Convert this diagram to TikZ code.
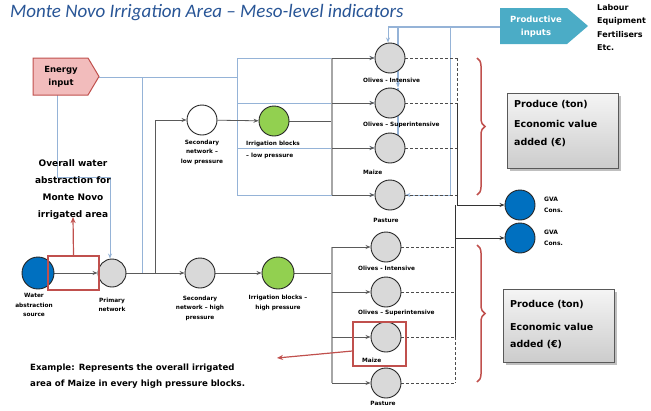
\documentclass[tikz,border=0pt]{standalone}
\usepackage{fontspec}
\setmainfont{DejaVu Sans}
\newfontfamily\titlefont[Ligatures=TeX]{Carlito}
\usetikzlibrary{arrows.meta,decorations.pathreplacing,shadows,backgrounds}
\definecolor{cblue}{RGB}{149,179,215}
\definecolor{cgray}{RGB}{217,217,217}
\definecolor{cgreen}{RGB}{146,208,80}
\definecolor{dblue}{RGB}{0,112,192}
\definecolor{cred}{RGB}{192,80,77}
\definecolor{cpink}{RGB}{242,188,188}
\definecolor{cteal}{RGB}{75,172,198}
\definecolor{ctitle}{RGB}{40,85,150}
\definecolor{lgray}{RGB}{90,90,90}
\begin{document}
\begin{tikzpicture}[x=1pt,y=-1pt,
  crc/.style={circle,draw=black!85,line width=0.9pt,minimum size=30pt,inner sep=0pt,fill=cgray},
  lbl/.style={font=\bfseries\fontsize{5.8}{9.5}\selectfont,align=center,inner sep=0pt},
  gl/.style={draw=lgray,line width=0.8pt},
  ga/.style={gl,-{Stealth[length=5pt,width=4pt]}},
  bl/.style={draw=cblue,line width=1pt},
  ba/.style={bl,-{Stealth[length=5pt,width=4pt]}},
  dl/.style={draw=black!70,line width=0.8pt,dash pattern=on 3pt off 2pt},
  redl/.style={draw=cred,line width=1.2pt},
  prodbox/.style={draw=black!65,line width=1pt,top color=gray!8,bottom color=gray!40,drop shadow,
    minimum width=111pt,minimum height=75pt,inner sep=0pt}
]
\useasboundingbox (0,0) rectangle (651,410);

% title
\node[anchor=west,font=\titlefont\itshape\fontsize{19}{21}\selectfont,text=ctitle,inner sep=0pt] (title) at (10,13)
  {Monte Novo Irrigation Area \textendash{} Meso-level indicators};

% circles
\node[crc,fill=dblue,minimum size=32pt] (wa) at (38,273) {};
\node[crc,minimum size=28pt] (pn) at (112,273) {};
\node[crc,fill=white] (snl) at (202,120) {};
\node[crc,fill=cgreen] (ibl) at (274,121) {};
\node[crc] (snh) at (200,273) {};
\node[crc,fill=cgreen,minimum size=32pt] (ibh) at (278,273) {};
\node[crc] (t1) at (390,58) {};
\node[crc] (t2) at (390,103) {};
\node[crc] (t3) at (390,148) {};
\node[crc] (t4) at (390,195) {};
\node[crc] (b1) at (386,247) {};
\node[crc] (b2) at (386,292) {};
\node[crc] (b3) at (386,337) {};
\node[crc] (b4) at (386,383) {};
\node[crc,fill=dblue] (g1) at (520,205) {};
\node[crc,fill=dblue] (g2) at (520,238) {};

% labels
\node[lbl] (lwa) at (34,305) {Water\\abstraction\\source};
\node[lbl] (lpn) at (112,305) {Primary\\network};
\node[lbl] (lsnl) at (202,152) {Secondary\\network --\\low pressure};
\node[lbl,align=left,anchor=west,font=\bfseries\fontsize{5.8}{12}\selectfont] (libl) at (246,150) {Irrigation blocks\\-- low pressure};
\node[lbl] (lsnh) at (200,308) {Secondary\\network -- high\\pressure};
\node[lbl] (libh) at (278,303) {Irrigation blocks --\\high pressure};
\node[lbl,anchor=west] (lt1) at (363,80) {Olives - Intensive};
\node[lbl,anchor=west] (lt2) at (363,125) {Olives -- Superintensive};
\node[lbl,anchor=west] (lt3) at (363,172) {Maize};
\node[lbl] (lt4) at (386,220) {Pasture};
\node[lbl,anchor=west] (lb1) at (358,268) {Olives - Intensive};
\node[lbl,anchor=west] (lb2) at (358,313) {Olives -- Superintensive};
\node[lbl,anchor=west] (lb3) at (362,360) {Maize};
\node[lbl] (lb4) at (383,403) {Pasture};
\node[lbl,anchor=west,align=left,font=\bfseries\fontsize{6}{11}\selectfont] (lg1) at (544,205) {GVA\\Cons.};
\node[lbl,anchor=west,align=left,font=\bfseries\fontsize{6}{11}\selectfont] (lg2) at (544,238) {GVA\\Cons.};

% energy input
\filldraw[fill=cpink,draw=cred,line width=1pt] (33,58) -- (88,58) -- (99,76.5) -- (88,95) -- (33,95) -- cycle;
\node[font=\bfseries\fontsize{8.5}{13}\selectfont,align=center,inner sep=0pt] (en) at (61,77) {Energy\\input};
\coordinate (etip) at (99,77);
\coordinate (ebot) at (57,95);

% productive inputs
\fill[cteal] (500,8) -- (567,8) -- (588,26) -- (567,44) -- (500,44) -- cycle;
\node[font=\bfseries\fontsize{8.5}{13}\selectfont,align=center,text=white,inner sep=0pt] (pi) at (536,27) {Productive\\inputs};
\coordinate (pleft) at (500,27);
\node[anchor=north west,font=\bfseries\fontsize{8}{13.5}\selectfont,align=left,inner sep=0pt] (lab) at (597,4)
  {Labour\\Equipment\\Fertilisers\\Etc.};

% junction coordinates
\coordinate (j1) at (155,273);
\coordinate (jn) at (110,177);
\coordinate (ev) at (237,77);
\coordinate (ex) at (142,77);
\coordinate (bt) at (332,121);
\coordinate (bb) at (332,273);
\coordinate (pv) at (398,27);
\coordinate (pt) at (388,27);
\coordinate (pr) at (450,27);
\coordinate (dt) at (457,103);
\coordinate (db) at (455,337);

\begin{scope}[on background layer]
% energy lines
\draw[bl] (etip) -- (ev);
\draw[bl] (ev |- t1) -- (ev |- t4);
\draw[bl] (ex) -- (ex |- pn);
\draw[ba] (ebot) |- (jn) -- (jn |- pn.north);
\foreach \c in {t1,t2,t3,t4} \draw[ba] (ev |- \c) -- (\c);
% grey network
\draw[ga] (wa) -- (pn);
\draw[ga] (pn) -- (snh);
\draw[ga] (j1) |- (snl);
\draw[ga] (snl) -- (ibl);
\draw[ga] (snh) -- (ibh);
\draw[gl] (ibl) -- (bt);
\draw[gl] (ibh) -- (bb);
\draw[draw=gray!70,line width=1.6pt] (bt |- t1) -- (bt |- t4);
\draw[draw=gray!70,line width=1.6pt] (bb |- b1) -- (bb |- b4);
\foreach \c in {t1,t2,t3,t4} \draw[ga] (bt |- \c) -- (\c);
\foreach \c in {b1,b2,b3,b4} \draw[ga] (bb |- \c) -- (\c);
% productive input lines
\draw[bl,line width=2.2pt] (pleft) -- (pt);
\draw[ba,line width=2.2pt] (pv) -- (t2.north -| pv) ;
\draw[ba,line width=2.2pt] (t2.north -| pv) -- ([yshift=-12.7pt]t3.center -| pv);
\draw[ba] (pt) -- (t1.north -| pt);
\draw[ba] (pr) |- (t4);
% dashed outputs
\foreach \c in {t1,t2,t3,t4} \draw[dl] (\c) -- (\c -| dt);
\draw[dl] (dt |- t1) -- (dt |- t4);
\foreach \c in {b1,b2,b3,b4} \draw[dl] (\c) -- (\c -| db);
\draw[dl] (db |- b1) -- (db |- b4);
\draw[draw=black!80,line width=0.8pt,-{Stealth[length=5pt,width=4pt]}] (dt) |- (g1);
\draw[draw=black!80,line width=0.8pt,-{Stealth[length=5pt,width=4pt]}] (db) |- (g2);
\draw[draw=black!80,line width=0.8pt] (db |- g1) -- (db |- g2);
\end{scope}

% braces
\draw[redl,line width=1.5pt,decorate,decoration={brace,amplitude=8pt}] (477,58) -- (477,195);
\draw[redl,line width=1.5pt,decorate,decoration={brace,amplitude=8pt}] (477,245) -- (477,382);

% produce boxes
\node[prodbox] (pr1) at (562.5,130.5) {};
\node[anchor=north west,font=\bfseries\fontsize{9.5}{18}\selectfont,align=left,inner sep=0pt] (tx1) at (514,100)
  {Produce (ton)\\[2pt] Economic value\\added (€)};
\node[prodbox,minimum height=73pt] (pr2) at (559,325.5) {};
\node[anchor=north west,font=\bfseries\fontsize{9.5}{17}\selectfont,align=left,inner sep=0pt] (tx2) at (510,300)
  {Produce (ton)\\[6pt] Economic value\\added (€)};

% red annotations
\node[draw=cred,line width=1.2pt,minimum width=51pt,minimum height=34pt,inner sep=0pt] (rw) at (73.5,273) {};
\node[font=\bfseries\fontsize{9}{17}\selectfont,align=center,inner sep=0pt] (ow) at (73,190)
  {Overall water\\abstraction for\\Monte Novo\\irrigated area};
\draw[redl,-{Stealth[length=6pt,width=5pt]}] (rw.north) -- ([yshift=3pt]ow.south);
\node[draw=cred,line width=1.2pt,minimum width=53pt,minimum height=44pt,inner sep=0pt] (rm) at (379.5,344) {};
\node[anchor=west,font=\bfseries\fontsize{8.6}{16.5}\selectfont,align=left,inner sep=0pt] (ex1) at (30,376)
  {Example: Represents the overall irrigated\\area of Maize in every high pressure blocks.};
\coordinate (arrowend) at (277,358);
\draw[redl,-{Stealth[length=6pt,width=5pt]}] ([yshift=-7pt]rm.west) -- (arrowend);
\end{tikzpicture}
\end{document}
